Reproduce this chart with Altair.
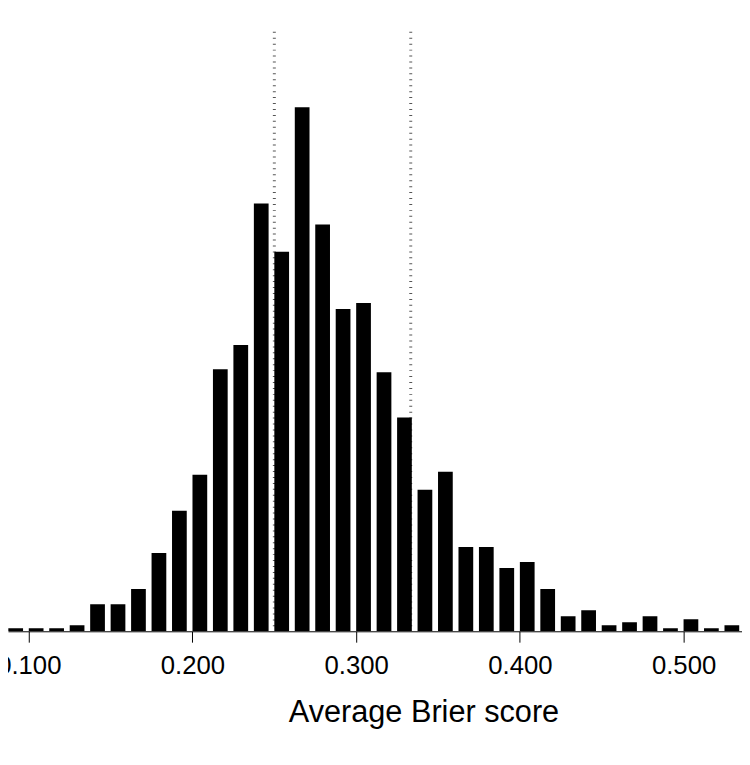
import pandas as pd
import altair as alt

# histogram of average Brier scores, bins of 0.0125
bin_start = [0.0875, 0.1, 0.1125, 0.125, 0.1375, 0.15, 0.1625, 0.175, 0.1875,
             0.2, 0.2125, 0.225, 0.2375, 0.25, 0.2625, 0.275, 0.2875,
             0.3, 0.3125, 0.325, 0.3375, 0.35, 0.3625, 0.375, 0.3875,
             0.4, 0.4125, 0.425, 0.4375, 0.45, 0.4625, 0.475, 0.4875,
             0.5, 0.5125, 0.525]
counts = [1, 1, 1, 2, 9, 9, 14, 26, 40,
          52, 87, 95, 142, 126, 174, 135, 107,
          109, 86, 71, 47, 53, 28, 28, 21,
          23, 14, 5, 7, 2, 3, 5, 1,
          4, 1, 2]
ref_lines = [0.25, 1 / 3]
tick_vals = [0.1, 0.2, 0.3, 0.4, 0.5]

hist = pd.DataFrame({"start": bin_start, "count": counts})
refs = pd.DataFrame({"score": ref_lines})

x_scale = alt.Scale(domain=[0.0873, 0.5357], nice=False, zero=False)
y_scale = alt.Scale(domain=[0, 199], nice=False)

lines = alt.Chart(refs).mark_rule(
    color="#555555", strokeWidth=3, strokeDash=[1, 5]
).encode(x=alt.X("score:Q", scale=x_scale))

bars = alt.Chart(hist).transform_calculate(
    end="datum.start + 0.009"
).mark_bar(color="black", clip=True).encode(
    x=alt.X("start:Q", scale=x_scale,
            axis=alt.Axis(values=tick_vals, format=".3f", title="Average Brier score",
                          grid=False, domainColor="black", domainWidth=1,
                          tickColor="black", tickSize=11, tickWidth=1,
                          labelFontSize=26, labelPadding=11, labelColor="black",
                          labelFont="Liberation Sans", labelFlush=False,
                          titleFontSize=31, titleFont="Liberation Sans",
                          titleFontWeight="normal", titleColor="black",
                          titleX=420, titleY=91, titleBaseline="alphabetic",
                          titleAnchor="middle")),
    x2="end:Q",
    y=alt.Y("count:Q", scale=y_scale, axis=None),
    y2=alt.datum(0),
)

chart = alt.layer(lines, bars).properties(
    width=742, height=606,
    autosize=alt.AutoSizeParams(type="none"),
    padding={"left": 0, "top": 20, "right": 0, "bottom": 123},
).configure_view(stroke=None)

chart.save("out.html", embed_options={"renderer": "svg", "actions": False})
